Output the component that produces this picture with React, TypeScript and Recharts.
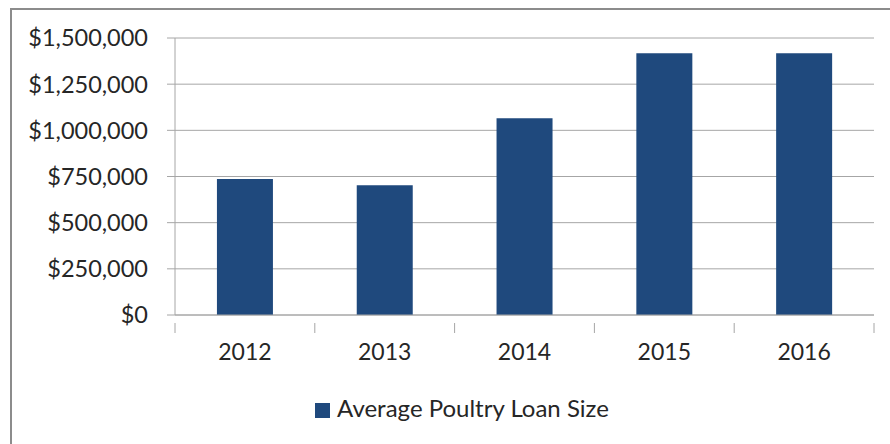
import { BarChart, Bar, XAxis, YAxis, CartesianGrid, Legend } from 'recharts';

const years = ['2012', '2013', '2014', '2015', '2016'];
const loanSize = [736000, 702000, 1065000, 1418000, 1418000];
const yTicks = [0, 250000, 500000, 750000, 1000000, 1250000, 1500000];

const data = years.map((year, i) => ({ year, loan: loanSize[i] }));

const FONT = 'Lato, "Open Sans", sans-serif';
const GRID = '#a6a6a6';
const TEXT = '#262626';

const formatMoney = (v: number) => `$${v.toLocaleString('en-US')}`;

// Excel-style category axis: tick marks on the boundaries between categories
const YearTick = (props: any) => {
  const { x, y, payload, index } = props;
  const half = payload?.offset ?? 69.9;
  const last = index === years.length - 1;
  return (
    <g>
      <line x1={x - half} y1={y} x2={x - half} y2={y + 10} stroke={GRID} />
      {last && <line x1={x + half} y1={y} x2={x + half} y2={y + 10} stroke={GRID} />}
      <text x={x} y={y + 21} dy="0.71em" textAnchor="middle" fill={TEXT} fontSize={23} fontFamily={FONT}>
        {payload.value}
      </text>
    </g>
  );
};

const App = () => {
  return (
    <div style={{ position: 'fixed', left: 0, top: 0, width: 890, height: 444, background: '#fff', overflow: 'hidden' }}>
      <div
        style={{
          position: 'absolute',
          left: 10,
          top: 8,
          width: 900,
          height: 460,
          border: '2px solid #8c8c8c',
          boxSizing: 'border-box',
        }}
      />
      <div style={{ position: 'absolute', left: 0, top: 0 }}>
        <BarChart
          width={890}
          height={444}
          data={data}
          margin={{ top: 38, right: 16, left: 0, bottom: 69 }}
          barCategoryGap="30%"
        >
          <CartesianGrid vertical={false} stroke={GRID} />
          <XAxis
            dataKey="year"
            height={60}
            interval={0}
            tickLine={false}
            axisLine={{ stroke: GRID }}
            tick={<YearTick />}
          />
          <YAxis
            width={175}
            domain={[0, 1500000]}
            ticks={yTicks}
            interval={0}
            tickFormatter={formatMoney}
            tickSize={8}
            tickMargin={19}
            axisLine={{ stroke: GRID }}
            tickLine={{ stroke: GRID }}
            tick={{ fill: TEXT, fontSize: 23.5, fontFamily: FONT }}
          />
          <Legend
            verticalAlign="middle"
            align="center"
            iconType="square"
            iconSize={15}
            wrapperStyle={{ top: 393, left: 22, width: 890, fontFamily: FONT, fontSize: 24 }}
            formatter={(value) => <span style={{ color: TEXT, marginLeft: 3 }}>{value}</span>}
          />
          <Bar
            dataKey="loan"
            name="Average Poultry Loan Size"
            fill="#1f497d"
            isAnimationActive={false}
          />
        </BarChart>
      </div>
    </div>
  );
};

export default App;
